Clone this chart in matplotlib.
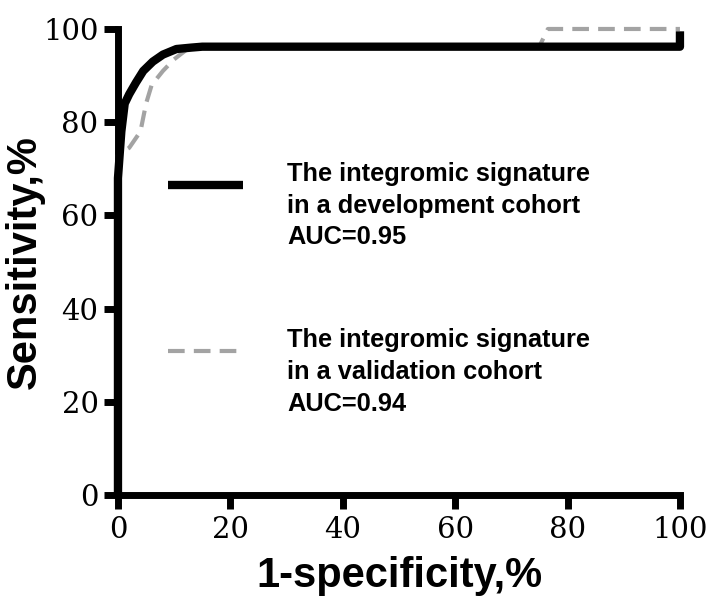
import matplotlib
matplotlib.use("Agg")
import numpy as np
import matplotlib.pyplot as plt
from matplotlib.legend_handler import HandlerLine2D

# ROC points (1-specificity %, sensitivity %)
dev_fpr = [0, 0, 0.6, 1.2, 2, 3.2, 4.5, 6.2, 8, 10.4, 13, 15, 100, 100]
dev_tpr = [0, 68, 78, 84, 86, 88.5, 91, 93, 94.5, 95.7, 96, 96.2, 96.2, 99.5]

val_fpr = [0, 0, 2, 4, 5, 6, 8, 10, 13, 75, 76.5, 100]
val_tpr = [70, 73, 74.5, 78, 84, 88, 91, 93.5, 96.3, 96.3, 100, 100]

dev_label = "The integromic signature\nin a development cohort\nAUC=0.95"
val_label = "The integromic signature\nin a validation cohort\nAUC=0.94"

ticks = [0, 20, 40, 60, 80, 100]


class RaisedLine(HandlerLine2D):
    # legend sample sits next to the first text lines, not the middle one
    def create_artists(self, legend, orig_handle, xdescent, ydescent,
                       width, height, fontsize, trans):
        artists = super().create_artists(legend, orig_handle, xdescent,
                                         ydescent, width, height, fontsize,
                                         trans)
        for a in artists:
            a.set_ydata(np.asarray(a.get_ydata()) + 0.85 * fontsize)
        return artists


def main():
    fig = plt.figure(figsize=(7.18, 6.14), dpi=100)
    ax = fig.add_axes([0.1643, 0.1938, 0.7827, 0.759])

    ax.plot(val_fpr, val_tpr, color="#a3a3a3", lw=3, dashes=(4, 2.2),
            label=val_label, clip_on=False, zorder=3)
    ax.plot(dev_fpr, dev_tpr, color="black", lw=6, label=dev_label,
            clip_on=False, zorder=4, solid_capstyle="butt")

    ax.set_xlim(0, 100)
    ax.set_ylim(0, 100)
    ax.set_xticks(ticks)
    ax.set_yticks(ticks)

    for side in ["top", "right"]:
        ax.spines[side].set_visible(False)
    for side in ["left", "bottom"]:
        ax.spines[side].set_linewidth(5)

    ax.tick_params(axis="both", direction="out", length=10, width=5,
                   labelsize=21)
    ax.tick_params(axis="y", pad=4)
    ax.tick_params(axis="x", pad=5)
    for lab in ax.get_xticklabels() + ax.get_yticklabels():
        lab.set_family("DejaVu Serif")

    ax.set_xlabel("1-specificity,%", family="Liberation Sans",
                  fontweight="bold", fontsize=30, labelpad=9)
    ax.set_ylabel("Sensitivity,%", family="Liberation Sans",
                  fontweight="bold", fontsize=30, labelpad=-1)

    handles, labels = ax.get_legend_handles_labels()
    leg = ax.legend(handles[::-1], labels[::-1], loc="upper left",
                    bbox_to_anchor=(0.089, 0.715), frameon=False,
                    borderpad=0, borderaxespad=0, handlelength=2.95,
                    handletextpad=1.75, labelspacing=3.1,
                    handler_map={h: RaisedLine() for h in handles},
                    prop={"family": "Liberation Sans", "weight": "bold",
                          "size": 18.3})
    for t in leg.get_texts():
        t.set_linespacing(1.41)

    fig.savefig("out.png", dpi=100)


if __name__ == "__main__":
    main()
